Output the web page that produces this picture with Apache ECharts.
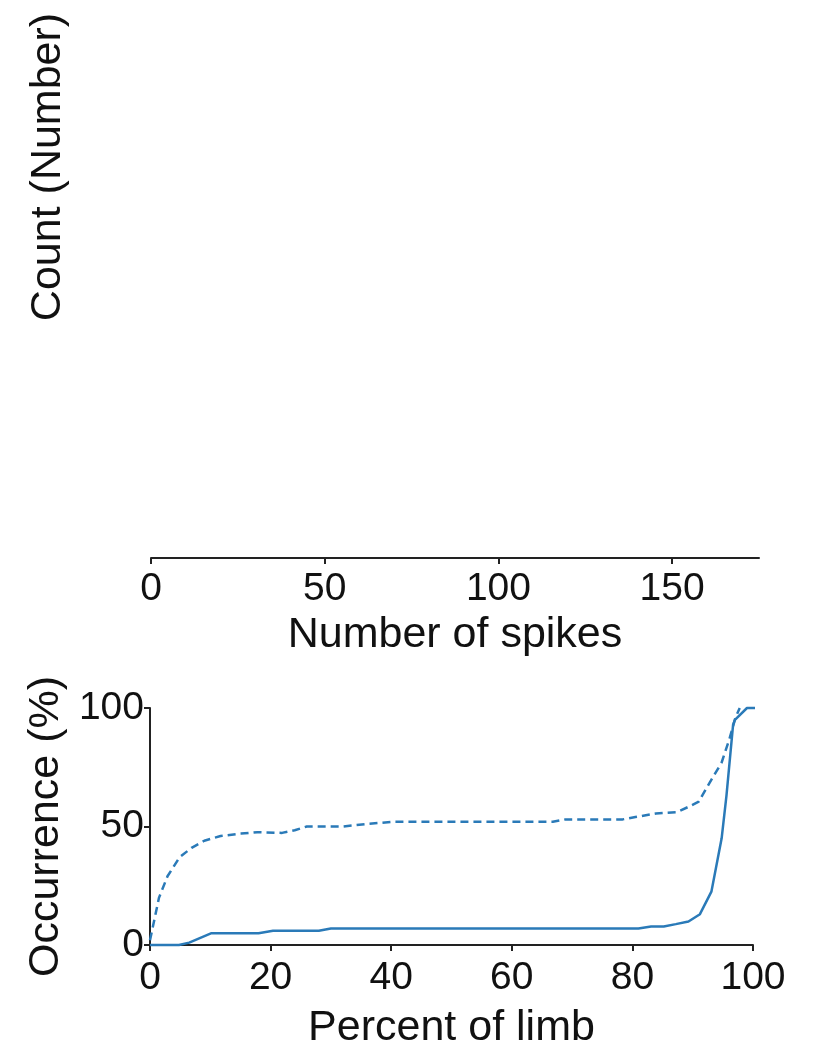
<!DOCTYPE html>
<html>
<head>
<meta charset="utf-8">
<title>Spikes and occurrence along the limb</title>
<script src="https://cdn.jsdelivr.net/npm/echarts@6/dist/echarts.min.js"></script>
<style>
  html, body { margin: 0; padding: 0; background: #ffffff; }
  #chart { width: 815px; height: 1047px; }
</style>
</head>
<body>
<div id="chart"></div>
<script>
// Top panel: spike-count histogram axis (no bars)
const spikeTicks = [0, 50, 100, 150];
const spikeMax = 175;

// Bottom panel: cumulative occurrence along the limb (x = percent of limb, y = %)
const limbTicks = [0, 20, 40, 60, 80, 100];
const occurrenceTicks = [0, 50, 100];

const dashedX = [0, 1.5, 2.9, 4.9, 6.9, 9.0, 11.7, 15.1, 17.8, 21.9, 24.0, 26.0, 32.0, 36.2, 40.3, 66.8, 68.9, 78.4, 80.5, 83.9, 87.3, 89.3, 91.0, 92.7, 94.8, 96.1, 97.1, 97.8];
const dashedY = [2, 20, 29, 37, 41, 44, 46, 47, 47.6, 47.3, 48.4, 50, 50, 51.1, 52, 52, 53, 53, 54, 55.5, 56, 58.3, 60.5, 68, 77, 87, 96, 100];

const solidX = [0, 4.8, 6.5, 10.2, 18.0, 20.4, 28.0, 30.0, 81.0, 83.1, 85.2, 87.2, 89.3, 91.2, 93.1, 94.8, 95.6, 96.7, 97.0, 99.0, 100.8];
const solidY = [0, 0, 1, 5, 5, 6, 6, 7, 7, 7.8, 7.8, 8.8, 9.9, 13, 22.5, 45, 63, 93, 95, 100, 100];

const blue = '#2a7ab8';
const font = 'Liberation Sans, Arial, Helvetica, sans-serif';
const tickSize = 39;
const nameSize = 43;

function pairs(xs, ys) { return xs.map((x, i) => [x, ys[i]]); }

const chart = echarts.init(document.getElementById('chart'), null, { renderer: 'canvas' });

const axisLineStyle = { color: '#222222', width: 2 };
const tickStyle = { show: true, inside: false, length: 6, lineStyle: { color: '#222222', width: 2 } };
const labelStyle = { color: '#111111', fontFamily: font, fontSize: tickSize };

chart.setOption({
  animation: false,
  backgroundColor: '#ffffff',
  grid: [
    { left: 151, right: 56, top: 20, bottom: 1047 - 558, containLabel: false, outerBoundsMode: 'none' },
    { left: 150, right: 62, top: 708, bottom: 1047 - 945, containLabel: false, outerBoundsMode: 'none' }
  ],
  xAxis: [
    {
      gridIndex: 0, type: 'value', min: 0, max: spikeMax, interval: 50,
      name: 'Number of spikes', nameLocation: 'middle', nameGap: 46,
      nameTextStyle: { color: '#111111', fontFamily: font, fontSize: nameSize },
      axisLine: { show: true, lineStyle: axisLineStyle },
      axisTick: Object.assign({}, tickStyle, { customValues: spikeTicks }),
      axisLabel: Object.assign({}, labelStyle, { margin: 12, customValues: spikeTicks }),
      splitLine: { show: false }
    },
    {
      gridIndex: 1, type: 'value', min: 0, max: 100, interval: 20,
      name: 'Percent of limb', nameLocation: 'middle', nameGap: 62,
      nameTextStyle: { color: '#111111', fontFamily: font, fontSize: nameSize },
      axisLine: { show: true, lineStyle: axisLineStyle },
      axisTick: Object.assign({}, tickStyle, { customValues: limbTicks }),
      axisLabel: Object.assign({}, labelStyle, { margin: 14, customValues: limbTicks }),
      splitLine: { show: false }
    }
  ],
  yAxis: [
    {
      gridIndex: 0, type: 'value', min: 0, max: 10,
      axisLine: { show: false }, axisTick: { show: false },
      axisLabel: { show: false }, splitLine: { show: false }
    },
    {
      gridIndex: 1, type: 'value', min: 0, max: 100, interval: 50,
      name: 'Occurrence (%)', nameLocation: 'middle', nameGap: 79,
      nameTextStyle: { color: '#111111', fontFamily: font, fontSize: nameSize },
      axisLine: { show: true, lineStyle: axisLineStyle },
      axisTick: Object.assign({}, tickStyle, { customValues: occurrenceTicks }),
      axisLabel: Object.assign({}, labelStyle, { margin: 6, customValues: occurrenceTicks }),
      splitLine: { show: false }
    }
  ],
  graphic: [
    {
      type: 'text', x: 48, y: 167, rotation: Math.PI / 2,
      style: {
        text: 'Count (Number)', fill: '#111111', font: nameSize + 'px ' + font,
        align: 'center', verticalAlign: 'middle'
      }
    }
  ],
  series: [
    {
      type: 'line', xAxisIndex: 1, yAxisIndex: 1, clip: false,
      data: pairs(dashedX, dashedY), showSymbol: false, symbol: 'none',
      lineStyle: { color: blue, width: 2.5, type: [8, 5] }
    },
    {
      type: 'line', xAxisIndex: 1, yAxisIndex: 1, clip: false,
      data: pairs(solidX, solidY), showSymbol: false, symbol: 'none',
      lineStyle: { color: blue, width: 2.5 }
    }
  ]
});
</script>
</body>
</html>
